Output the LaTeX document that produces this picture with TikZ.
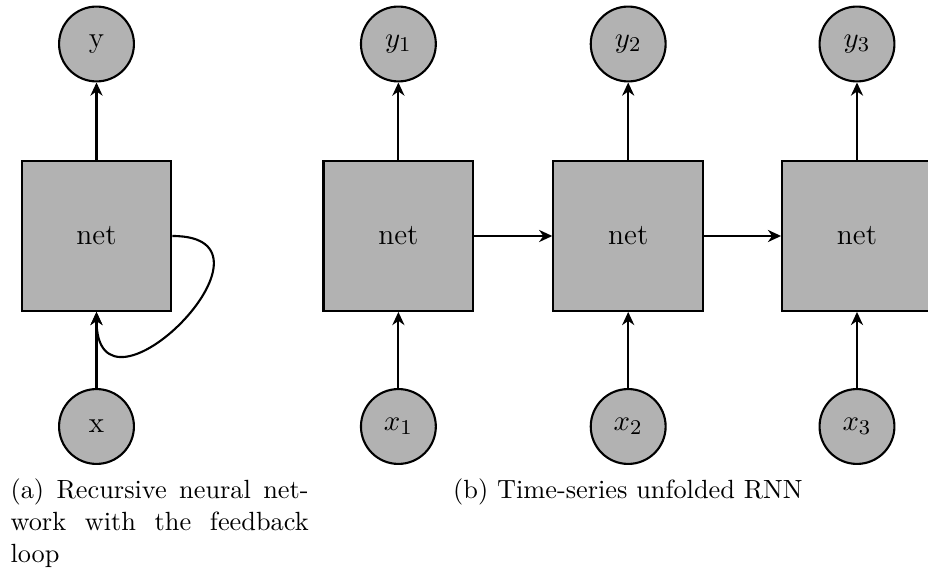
\documentclass[tikz,border=0pt]{standalone}
\usetikzlibrary{arrows.meta}
\tikzset{
  netbox/.style={draw=black,thick,fill=black!30,minimum size=2cm,inner sep=0pt,
    font=\fontsize{11.2}{13}\selectfont},
  io/.style={circle,draw=black,thick,fill=black!30,minimum size=1cm,inner sep=0pt,
    font=\fontsize{11.2}{13}\selectfont},
  flow/.style={thick,-{Stealth[length=5pt,width=4.6pt,inset=1.6pt]}},
  captext/.style={font=\fontsize{10}{12.3}\selectfont,inner sep=0pt,anchor=base west}
}
\begin{document}
\begin{tikzpicture}[x=0.38pt,y=-0.38pt]
  \useasboundingbox (0,0) rectangle (928,572);
  \clip (0,0) rectangle (928,572);

  % (a) recursive network with feedback loop
  \node[netbox] (n0) at (96.5,236) {net};
  \node[io] (y0) at (96.5,44) {y};
  \node[io] (x0) at (96.5,426.5) {x};
  \draw[flow] (n0.north) -- (y0.south);
  \draw[flow] (x0.north) -- (n0.south);
  \draw[flow] (n0.east) to[out=0,in=-90,looseness=3] (n0.south);

  % (b) the same network unfolded over time
  \foreach \i/\px in {1/398.4,2/628.2,3/857} {
    \node[netbox] (n\i) at (\px,236) {net};
    \node[io] (y\i) at (\px,44) {$y_\i$};
    \node[io] (x\i) at (\px,426.5) {$x_\i$};
    \draw[flow] (n\i.north) -- (y\i.south);
    \draw[flow] (x\i.north) -- (n\i.south);
  }
  \draw[flow] (n1.east) -- (n2.west);
  \draw[flow] (n2.east) -- (n3.west);

  % sub-captions
  \node[captext] (capa1) at (10,498.5) {\makebox[113.3pt][s]{(a) Recursive neural net-}};
  \node[captext] (capa2) at (10,530.8) {\makebox[113.3pt][s]{work with the feedback}};
  \node[captext] (capa3) at (10,563) {loop};
  \node[captext] (capb) at (452.7,498.5) {(b) Time-series unfolded RNN};
\end{tikzpicture}
\end{document}
